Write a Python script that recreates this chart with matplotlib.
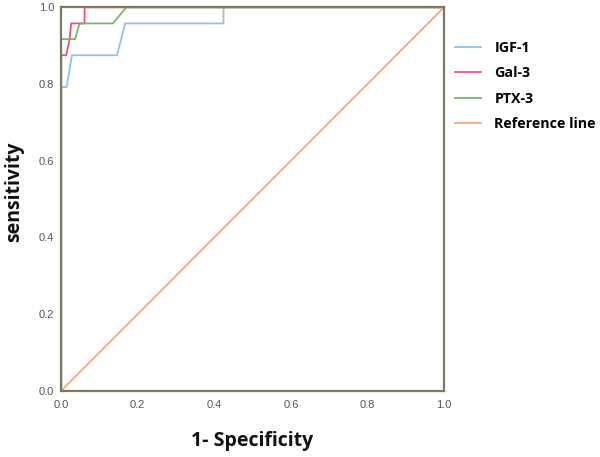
import matplotlib
matplotlib.use("Agg")
import matplotlib.pyplot as plt

# ROC curve points (1-specificity, sensitivity)
igf1_fpr = [0.0, 0.0, 0.014, 0.021, 0.028, 0.146, 0.167, 0.424, 0.424, 1.0]
igf1_tpr = [0.0, 0.792, 0.792, 0.833, 0.875, 0.875, 0.958, 0.958, 1.0, 1.0]

gal3_fpr = [0.0, 0.0, 0.013, 0.022, 0.026, 0.061, 0.061, 1.0]
gal3_tpr = [0.0, 0.875, 0.875, 0.917, 0.958, 0.958, 1.0, 1.0]

ptx3_fpr = [0.0, 0.0, 0.0, 0.036, 0.048, 0.135, 0.170, 1.0]
ptx3_tpr = [0.0, 0.875, 0.917, 0.917, 0.958, 0.958, 1.0, 1.0]

ref_x = [0.0, 1.0]
ref_y = [0.0, 1.0]

ticks = [0.0, 0.2, 0.4, 0.6, 0.8, 1.0]

fig = plt.figure(figsize=(6.0, 4.57), dpi=100)
ax = fig.add_axes([0.102, 0.145, 0.638, 0.839])

ax.plot(igf1_fpr, igf1_tpr, color="#8ec3ea", lw=1.3, label="IGF-1")
ax.plot(gal3_fpr, gal3_tpr, color="#e8527c", lw=1.3, label="Gal-3")
ax.plot(ptx3_fpr, ptx3_tpr, color="#6fbb6f", lw=1.3, label="PTX-3")
ax.plot(ref_x, ref_y, color="#f7a486", lw=1.3, label="Reference line")

ax.set_xlim(0, 1)
ax.set_ylim(0, 1)
ax.set_xticks(ticks)
ax.set_yticks(ticks)
ax.set_xticklabels([f"{t:.1f}" for t in ticks])
ax.set_yticklabels([f"{t:.1f}" for t in ticks])
ax.tick_params(length=0, labelsize=8, colors="#555555")
ax.tick_params(axis="x", pad=7)
ax.tick_params(axis="y", pad=5)
for lab in ax.get_xticklabels() + ax.get_yticklabels():
    lab.set_fontfamily("Liberation Sans")

for s in ax.spines.values():
    s.set_color("#7a7a62")
    s.set_linewidth(1.6)

ax.set_xlabel("1- Specificity", fontsize=14, fontweight="bold",
              fontfamily="Open Sans", color="#111111")
ax.set_ylabel("sensitivity", fontsize=14, fontweight="bold",
              fontfamily="Open Sans", color="#111111")
ax.xaxis.set_label_coords(0.5, -0.105)
ax.yaxis.set_label_coords(-0.097, 0.52)

leg = fig.legend(*ax.get_legend_handles_labels(), loc="upper left",
                 bbox_to_anchor=(455 / 600, 1 - 41 / 457), frameon=False,
                 borderpad=0, borderaxespad=0,
                 handlelength=1.8, handletextpad=0.95, labelspacing=0.8,
                 prop={"family": "Open Sans", "weight": "bold", "size": 10.3})

fig.savefig("out.png", dpi=100)
